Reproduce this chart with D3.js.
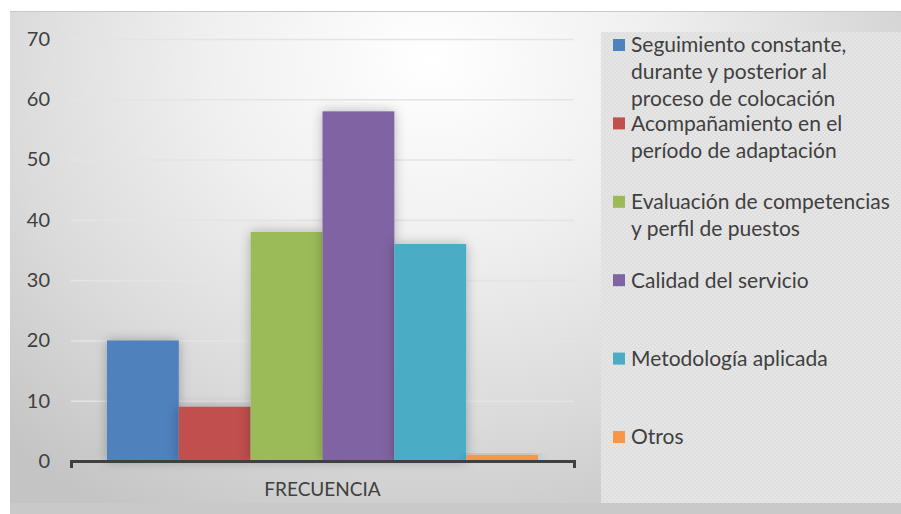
<!DOCTYPE html>
<html>
<head>
<meta charset="utf-8">
<script src="https://cdn.jsdelivr.net/npm/d3@7/dist/d3.min.js"></script>
<style>
  html, body { margin: 0; padding: 0; background: #ffffff; }
  svg { display: block; font-family: Lato, "Open Sans", sans-serif; }
</style>
</head>
<body>
<svg id="chart" width="901" height="514"></svg>
<script>
// Categories and series of the grouped column chart
const categories = ["FRECUENCIA"];
const seriesNames = [
  "Seguimiento constante, durante y posterior al proceso de colocación",
  "Acompañamiento en el período de adaptación",
  "Evaluación de competencias y perfil de puestos",
  "Calidad del servicio",
  "Metodología aplicada",
  "Otros"
];
// Legend labels, wrapped into lines
const legendLines = [
  ["Seguimiento constante,", "durante y posterior al", "proceso de colocación"],
  ["Acompañamiento en el", "período de adaptación"],
  ["Evaluación de competencias", "y perfil de puestos"],
  ["Calidad del servicio"],
  ["Metodología aplicada"],
  ["Otros"]
];
const values = [20, 9, 38, 58, 36, 1];
const colors = ["#4f81bd", "#c0504d", "#9bbb59", "#8064a2", "#4bacc6", "#f79646"];
const yTicks = [0, 10, 20, 30, 40, 50, 60, 70];

const svg = d3.select("#chart");
const defs = svg.append("defs");

// Chart background: soft radial light from the top centre
const bg = defs.append("radialGradient")
  .attr("id", "bgGrad")
  .attr("gradientUnits", "userSpaceOnUse")
  .attr("cx", 430).attr("cy", 60).attr("r", 620)
  .attr("gradientTransform", "translate(430,60) scale(1,0.85) translate(-430,-60)");
bg.append("stop").attr("offset", "0").attr("stop-color", "#ffffff");
bg.append("stop").attr("offset", "0.35").attr("stop-color", "#f0f0f0");
bg.append("stop").attr("offset", "0.7").attr("stop-color", "#dadada");
bg.append("stop").attr("offset", "1").attr("stop-color", "#c4c4c4");

// Gridline colour fades towards the light top
const gridGrad = defs.append("linearGradient")
  .attr("id", "gridGrad")
  .attr("gradientUnits", "userSpaceOnUse")
  .attr("x1", 0).attr("y1", 39).attr("x2", 0).attr("y2", 461);
gridGrad.append("stop").attr("offset", "0").attr("stop-color", "#e4e4e4");
gridGrad.append("stop").attr("offset", "0.4").attr("stop-color", "#d4d4d4");
gridGrad.append("stop").attr("offset", "0.7").attr("stop-color", "#8e8e8e");
gridGrad.append("stop").attr("offset", "1").attr("stop-color", "#808080");

// Checkered texture of the legend panel
const pat = defs.append("pattern")
  .attr("id", "legendPat")
  .attr("patternUnits", "userSpaceOnUse")
  .attr("width", 4).attr("height", 4);
pat.append("rect").attr("width", 4).attr("height", 4).attr("fill", "#dedede");
pat.append("rect").attr("width", 2).attr("height", 2).attr("fill", "#e6e6e6");
pat.append("rect").attr("x", 2).attr("y", 2).attr("width", 2).attr("height", 2).attr("fill", "#e6e6e6");

// Soft shadow under the columns
const shadow = defs.append("filter")
  .attr("id", "barShadow")
  .attr("x", "-30%").attr("y", "-30%").attr("width", "160%").attr("height", "160%");
shadow.append("feDropShadow")
  .attr("dx", 0).attr("dy", 0)
  .attr("stdDeviation", 6)
  .attr("flood-color", "#000")
  .attr("flood-opacity", 0.28);

// Chart area frame
svg.append("rect")
  .attr("x", 10).attr("y", 11).attr("width", 891).attr("height", 503)
  .attr("fill", "url(#bgGrad)");
svg.append("rect")
  .attr("x", 10).attr("y", 503).attr("width", 891).attr("height", 11)
  .attr("fill", "#c9c9c9");
svg.append("line")
  .attr("x1", 10).attr("x2", 901).attr("y1", 11.5).attr("y2", 11.5)
  .attr("stroke", "#c8c8c8").attr("stroke-width", 1);

// Legend panel
svg.append("rect")
  .attr("x", 601).attr("y", 32).attr("width", 300).attr("height", 471)
  .attr("fill", "url(#legendPat)");

// Scales
const plotLeft = 71, plotRight = 574, plotTop = 39, plotBottom = 461;
const x0 = d3.scaleBand().domain(categories).range([plotLeft, plotRight]).padding(0);
const x1 = d3.scaleBand().domain(seriesNames).range([0, x0.bandwidth()])
  .paddingInner(0).paddingOuter(0.5);
const y = d3.scaleLinear().domain([0, 70]).range([plotBottom, plotTop]);

// Horizontal gridlines
const grid = svg.append("g")
  .attr("transform", `translate(${plotLeft},0)`)
  .call(d3.axisLeft(y).tickValues(yTicks.filter(t => t > 0))
    .tickSize(-(plotRight - plotLeft)).tickFormat(""));
grid.select(".domain").remove();
grid.selectAll(".tick line")
  .attr("stroke", "url(#gridGrad)")
  .attr("stroke-width", 1.6);

// Y axis labels
const yAxis = svg.append("g")
  .attr("transform", `translate(${plotLeft},0)`)
  .call(d3.axisLeft(y).tickValues(yTicks).tickSize(0).tickPadding(21));
yAxis.select(".domain").remove();
yAxis.selectAll("text")
  .attr("fill", "#404040")
  .style("font-family", "Lato, 'Open Sans', sans-serif")
  .style("font-size", "20px");

// Columns
const group = svg.append("g")
  .selectAll("g")
  .data(categories)
  .join("g")
  .attr("transform", d => `translate(${x0(d)},0)`);

group.selectAll("rect")
  .data(() => seriesNames.map((s, i) => ({ s, v: values[i], c: colors[i] })))
  .join("rect")
  .attr("x", d => x1(d.s))
  .attr("width", x1.bandwidth())
  .attr("y", d => y(d.v))
  .attr("height", d => y(0) - y(d.v))
  .attr("fill", d => d.c)
  .attr("filter", "url(#barShadow)");

// Category axis
const xAxis = svg.append("g")
  .attr("transform", `translate(0,${plotBottom})`)
  .call(d3.axisBottom(x0).tickSizeInner(0).tickSizeOuter(7).tickPadding(22));
xAxis.select(".domain")
  .attr("stroke", "#404040")
  .attr("stroke-width", 3);
xAxis.selectAll("text")
  .attr("fill", "#404040")
  .style("font-family", "Lato, 'Open Sans', sans-serif")
  .style("font-size", "19px");

// Legend
const legend = svg.append("g");
const legendStartY = 45, legendStep = 78.4, lineH = 27;
legendLines.forEach((lines, i) => {
  const cy = legendStartY + i * legendStep;
  legend.append("rect")
    .attr("x", 613).attr("y", cy - 6)
    .attr("width", 12).attr("height", 12)
    .attr("fill", colors[i]);
  const t = legend.append("text")
    .attr("fill", "#404040")
    .style("font-size", "21px");
  lines.forEach((ln, j) => {
    t.append("tspan")
      .attr("x", 631)
      .attr("y", cy + j * lineH)
      .attr("dy", "0.35em")
      .text(ln);
  });
});
</script>
</body>
</html>
